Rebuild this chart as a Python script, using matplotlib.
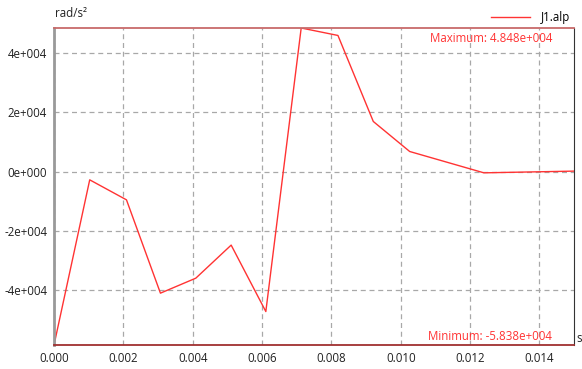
import matplotlib.pyplot as plt
from matplotlib.ticker import FuncFormatter, MultipleLocator

# Aceleración angular J1.alp
tiempo = [0.0, 0.00103, 0.00209, 0.00307, 0.00409, 0.00511, 0.00611,
          0.00713, 0.00819, 0.00921, 0.01026, 0.0124, 0.015]
alp = [-58380, -2700, -9440, -40900, -35850, -24700, -47100,
       48480, 45970, 16970, 6850, -340, 240]

y_max = 48480
y_min = -58380

plt.rcParams['font.family'] = ['Open Sans', 'DejaVu Sans']

fig = plt.figure(figsize=(5.82, 3.69), dpi=100)
ax = fig.add_axes([0.0928, 0.065, 0.8935, 0.8591])

ax.plot(tiempo, alp, color='#ff3333', linewidth=1.0, label='J1.alp')

ax.set_xlim(0, 0.015)
ax.set_ylim(y_min, y_max)
ax.xaxis.set_major_locator(MultipleLocator(0.002))
ax.yaxis.set_major_locator(MultipleLocator(20000))


def fmt_y(v, pos):
    if abs(v) < 1e-9:
        return '0e+000'
    signo = '-' if v < 0 else ''
    exp = 0
    m = abs(v)
    while m >= 10:
        m /= 10
        exp += 1
    return f'{signo}{m:.0f}e+{exp:03d}'


ax.yaxis.set_major_formatter(FuncFormatter(fmt_y))
ax.xaxis.set_major_formatter(FuncFormatter(lambda v, p: f'{v:.3f}'))

ax.grid(True, color='#a8a8a8', linestyle=(0, (4, 3)), linewidth=0.9)
ax.tick_params(length=0, labelsize=8.3, colors='#222222', pad=5)

ax.spines['left'].set_color('#999999')
ax.spines['left'].set_linewidth(2)
ax.spines['top'].set_color('#c86a6a')
ax.spines['top'].set_linewidth(1.3)
ax.spines['bottom'].set_color('#a03030')
ax.spines['bottom'].set_linewidth(1.3)
ax.spines['right'].set_color('#333333')
ax.spines['right'].set_linewidth(0.8)

# Valores extremos escritos dentro del gráfico
ax.text(0.958, 0.968, f'Maximum: {y_max/1e4:.3f}e+004', transform=ax.transAxes,
        color='#ff3333', fontsize=8.3, ha='right', va='center')
ax.text(0.958, 0.028, f'Minimum: {y_min/1e4:.3f}e+004', transform=ax.transAxes,
        color='#ff3333', fontsize=8.3, ha='right', va='center')

fig.text(0.094, 0.945, 'rad/s²', fontsize=8.3, ha='left', va='bottom', color='#222222')
fig.text(0.99, 0.083, 's', fontsize=8.3, ha='left', va='center', color='#222222')

ax.legend(loc='lower right', bbox_to_anchor=(1.0, 1.0), frameon=False,
          fontsize=8.3, handlelength=3.4, handletextpad=0.9,
          borderaxespad=0.15, borderpad=0.2)

fig.savefig('out.png', dpi=100)
